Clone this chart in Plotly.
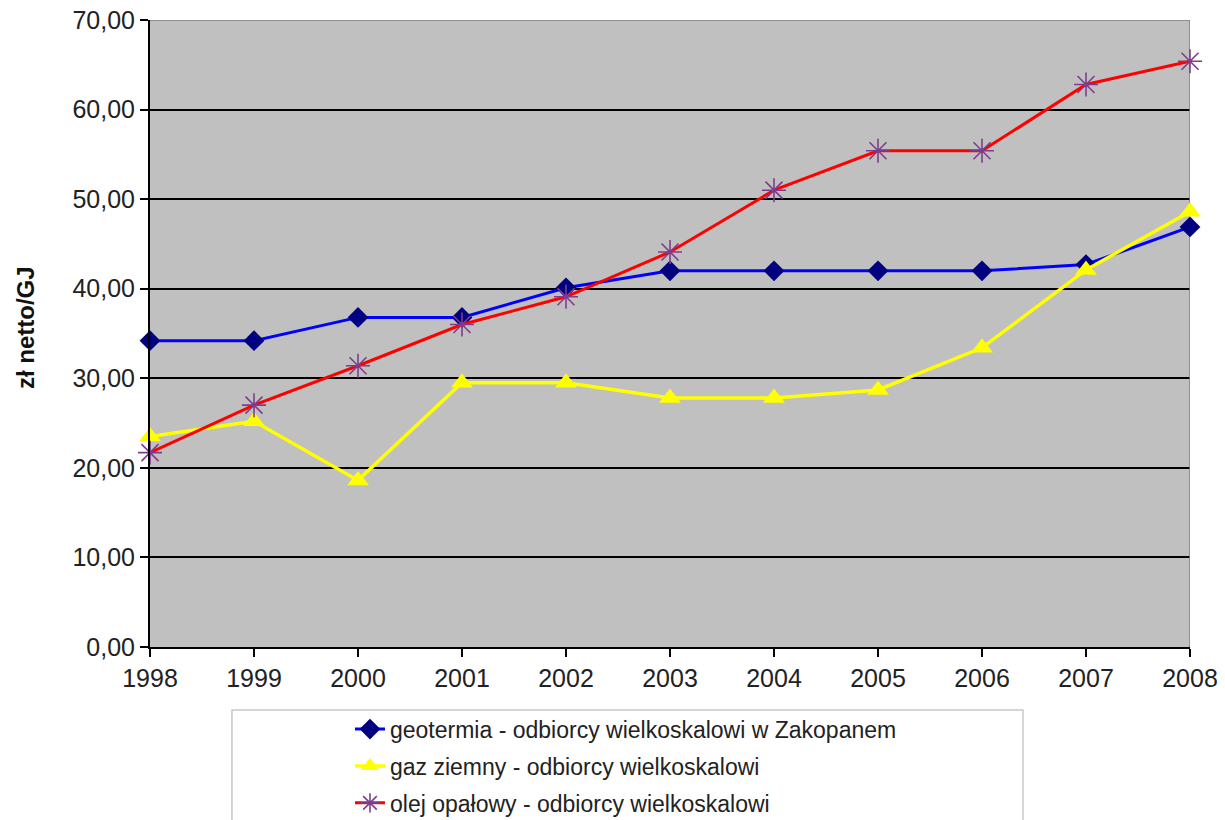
import plotly.graph_objects as go

years = [1998, 1999, 2000, 2001, 2002, 2003, 2004, 2005, 2006, 2007, 2008]
geotermia = [34.2, 34.2, 36.8, 36.8, 40.1, 42.0, 42.0, 42.0, 42.0, 42.7, 46.9]
gaz = [23.5, 25.2, 18.6, 29.5, 29.5, 27.8, 27.8, 28.7, 33.4, 42.1, 48.6]
olej = [21.7, 27.0, 31.4, 36.0, 39.1, 44.1, 51.0, 55.4, 55.4, 62.8, 65.4]

names = [
    "geotermia - odbiorcy wielkoskalowi w Zakopanem",
    "gaz ziemny - odbiorcy wielkoskalowi",
    "olej opałowy - odbiorcy wielkoskalowi",
]
y_title = "zł netto/GJ"
y_max = 70

FONT = "Arial, Liberation Sans, sans-serif"

fig = go.Figure()
fig.add_trace(go.Scatter(
    x=years, y=geotermia, name=names[0], mode="lines+markers", legendgroup="a",
    line=dict(color="#0000FF", width=3),
    marker=dict(symbol="diamond", size=16, color="#000080"),
    cliponaxis=False,
))
fig.add_trace(go.Scatter(
    x=years, y=gaz, name=names[1], mode="lines+markers", legendgroup="b",
    line=dict(color="#FFFF00", width=3.5),
    marker=dict(symbol="triangle-up", size=19, color="#FFFF00"),
    cliponaxis=False,
))
fig.add_trace(go.Scatter(
    x=years, y=olej, name=names[2], mode="lines+markers", legendgroup="c",
    line=dict(color="#FF0000", width=3),
    marker=dict(symbol="asterisk-open", size=20, color="#803C8C",
                line=dict(color="#803C8C", width=1.6)),
    cliponaxis=False,
))

fig.update_layout(
    width=1217, height=812,
    margin=dict(l=142, r=35, t=12, b=173, autoexpand=False),
    paper_bgcolor="white",
    plot_bgcolor="#C0C0C0",
    font=dict(family=FONT, size=25, color="#222222"),
    separators=",.",
    showlegend=True,
    legend=dict(
        xref="container", yref="container",
        x=0.281, y=0.1384, xanchor="left", yanchor="top",
        font=dict(family=FONT, size=23, color="#222222"),
        bgcolor="rgba(0,0,0,0)", borderwidth=0,
        tracegroupgap=4,
    ),
    xaxis=dict(
        range=[years[0], years[-1]], dtick=1, tick0=years[0],
        showgrid=False, zeroline=False,
        showline=True, linecolor="#000000", linewidth=2,
        ticks="outside", ticklen=8, tickcolor="#000000", tickwidth=1.5,
        ticklabeloverflow="allow",
        tickfont=dict(family=FONT, size=25, color="#222222"),
    ),
    yaxis=dict(
        range=[0, y_max], dtick=10, tickformat=".2f",
        showgrid=True, gridcolor="#000000", gridwidth=1.5,
        zeroline=False,
        showline=True, linecolor="#000000", linewidth=2,
        ticks="outside", ticklen=8, tickcolor="#000000", tickwidth=1.5,
        ticklabeloverflow="allow",
        tickfont=dict(family=FONT, size=25, color="#222222"),
    ),
    shapes=[
        dict(type="line", xref="x", yref="y", x0=years[0], x1=years[-1], y0=y_max, y1=y_max,
             line=dict(color="#808080", width=1.5), layer="between"),
        dict(type="line", xref="x", yref="y", x0=years[-1], x1=years[-1], y0=0, y1=y_max,
             line=dict(color="#808080", width=1.5), layer="between"),
        dict(type="rect", xref="paper", yref="paper", x0=0.0788, x1=0.8394, y0=-0.1005, y1=-0.35,
             line=dict(color="#C8C8C8", width=1.5), fillcolor="rgba(0,0,0,0)"),
    ],
    annotations=[
        dict(text="<b>" + y_title + "</b>", xref="paper", yref="paper", x=-0.119, y=0.509,
             textangle=-90, showarrow=False, xanchor="center", yanchor="middle",
             font=dict(family=FONT, size=24, color="#111111")),
    ],
)

fig.write_html("out.html")
